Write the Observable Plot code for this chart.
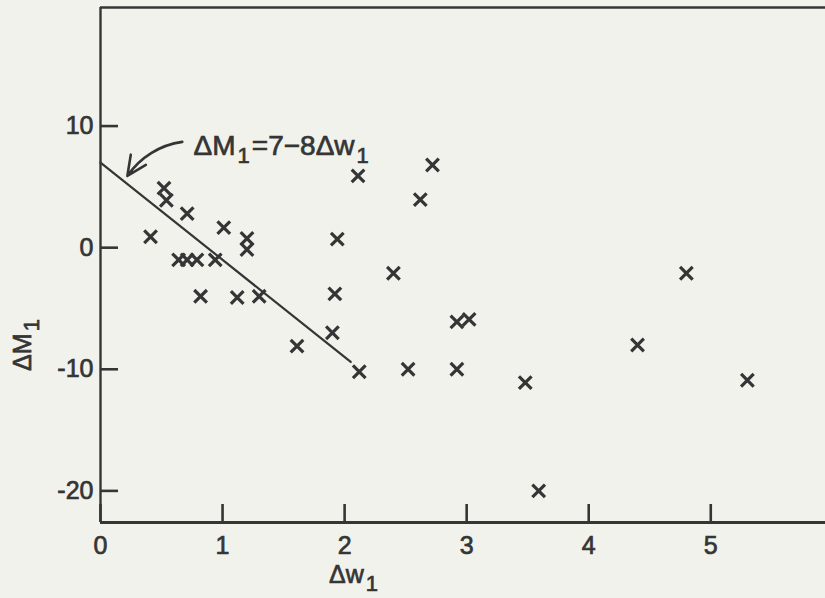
<!DOCTYPE html>
<html><head><meta charset="utf-8">
<script src="https://cdn.jsdelivr.net/npm/d3@7"></script>
<script src="https://cdn.jsdelivr.net/npm/@observablehq/plot@0.6"></script>
<style>
html,body{margin:0;padding:0;background:#f1f2eb;}
#chart svg{display:block;background:#f1f2eb;}
#chart svg text{stroke:#353535;stroke-width:0.7px;}
</style></head><body><div id="chart"></div>
<script>
// Δw1 (x) and ΔM1 (y)
const dw = [0.41,0.52,0.54,0.71,0.64,0.71,0.79,0.94,0.82,1.01,1.12,1.20,1.20,1.30,1.61,1.90,1.92,1.94,2.11,2.12,2.40,2.52,2.62,2.72,2.92,3.02,2.92,3.48,3.59,4.40,4.80,5.30];
const dM = [0.9,4.9,3.9,2.8,-1.0,-1.0,-1.0,-1.0,-4.0,1.65,-4.1,0.75,-0.15,-4.0,-8.1,-7.0,-3.8,0.7,5.9,-10.2,-2.1,-10.0,3.95,6.8,-6.1,-5.9,-10.0,-11.1,-20.0,-8.0,-2.1,-10.9];
// fitted line ΔM1 = 7 − 8Δw1, drawn between these end points
const fitW = [0, 2.05];
const fitM = [7, -9.4];
// ticks
const xTicks = [0,1,2,3,4,5];
const yTicks = [-20,-10,0,10];
const xDomain = [0, 5.94];
const yDomain = [-22.6, 19.75];
// annotation arrow (tail, head)
const arrowTail = [0.67, 8.7];
const arrowHead = [0.22, 5.9];
const eqLabel = "ΔM_1=7−8Δw_1";
const xLabel = "Δw_1";
const yLabel = "ΔM_1";

const points = dw.map((w,i)=>({w, m: dM[i]}));
const fit = fitW.map((w,i)=>({w, m: fitM[i]}));
const arrows = [{x1: arrowTail[0], y1: arrowTail[1], x2: arrowHead[0], y2: arrowHead[1]}];
const ink = "#353535";
const font = "Liberation Sans, Arial, sans-serif";

const svg = Plot.plot({
  width: 825, height: 598,
  marginLeft: 100, marginRight: 0, marginTop: 7, marginBottom: 76,
  style: {background: "#f1f2eb", color: ink, fontFamily: font},
  x: {domain: xDomain, axis: null},
  y: {domain: yDomain, axis: null},
  marks: [
    Plot.ruleX([xDomain[0]], {stroke: ink, strokeWidth: 2.4}),
    Plot.ruleY([yDomain[0]], {stroke: ink, strokeWidth: 3}),
    Plot.ruleY([yDomain[1]], {stroke: ink, strokeWidth: 2.6}),
    Plot.axisX(xTicks, {anchor: "bottom", tickSize: -18, tickPadding: 32, strokeWidth: 2.6, stroke: ink, fill: ink, fontSize: 25, tickFormat: d => String(d), label: null}),
    Plot.axisY(yTicks, {anchor: "left", tickSize: -18, tickPadding: 25, strokeWidth: 2.6, stroke: ink, fill: ink, fontSize: 25, tickFormat: d => String(d), label: null}),
    Plot.line(fit, {x: "w", y: "m", stroke: ink, strokeWidth: 2.2}),
    Plot.dot(points, {x: "w", y: "m", symbol: "times", r: 5.8, stroke: ink, strokeWidth: 3.2}),
    Plot.arrow(arrows, {x1: "x1", y1: "y1", x2: "x2", y2: "y2", bend: -24, headLength: 14, headAngle: 50, stroke: ink, strokeWidth: 2.6}),
    Plot.text([eqLabel], {frameAnchor: "top-left", dx: 93, dy: 128, textAnchor: "start", fontSize: 28, fill: ink}),
    Plot.text([xLabel], {frameAnchor: "bottom-left", dx: 253, dy: 60, textAnchor: "middle", fontSize: 25, fill: ink}),
    Plot.text([yLabel], {frameAnchor: "left", dx: -78, dy: 80, rotate: -90, textAnchor: "middle", fontSize: 25, fill: ink})
  ]
});

// render "_1" as a subscript
d3.select(svg).selectAll("text").each(function() {
  const t = this.textContent;
  if (!t.includes("_")) return;
  const el = d3.select(this);
  el.text(null);
  const parts = t.split("_");
  parts.forEach((p, i) => {
    if (i === 0) { el.append("tspan").text(p); return; }
    el.append("tspan").attr("dy", "8").attr("dx", "2").attr("font-size", "22").text(p[0]);
    if (p.length > 1) el.append("tspan").attr("dy", "-8").attr("dx", "2").text(p.slice(1));
  });
});

document.getElementById("chart").appendChild(svg);
</script>
</body></html>
